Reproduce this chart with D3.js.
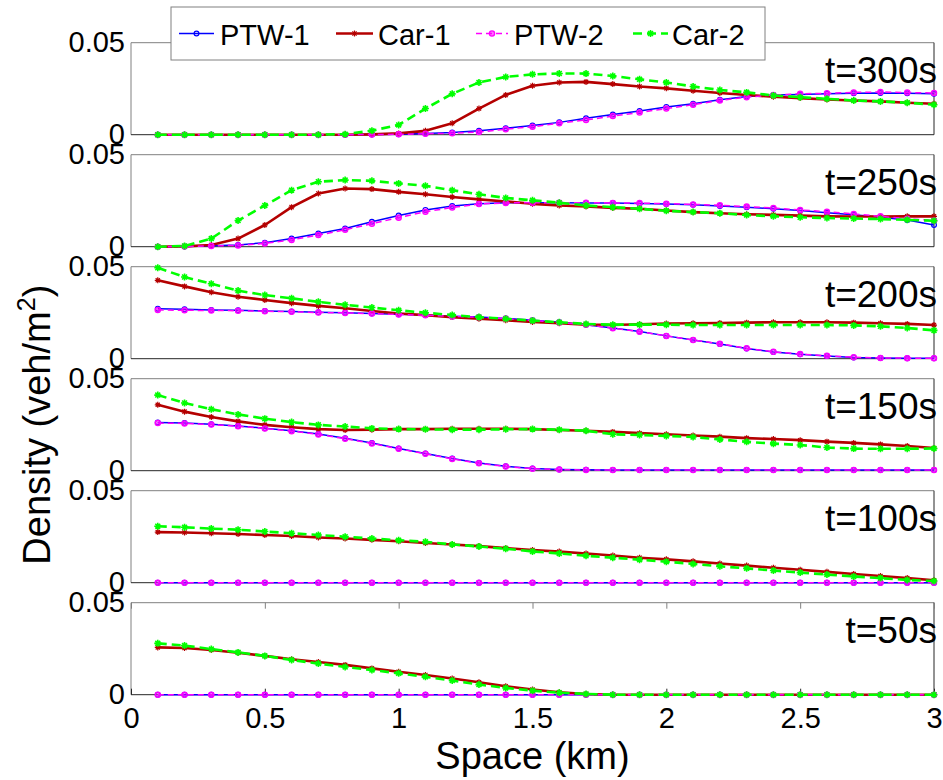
<!DOCTYPE html>
<html><head><meta charset="utf-8">
<script src="https://cdn.jsdelivr.net/npm/d3@7"></script>
<style>html,body{margin:0;padding:0;background:#fff;} svg{display:block;}</style>
</head><body><svg id="chart" width="943" height="780"></svg>
<script>
// ---------------- DATA ----------------
const X_KM = [0.1,0.2,0.3,0.4,0.5,0.6,0.7,0.8,0.9,1.0,1.1,1.2,1.3,1.4,1.5,1.6,1.7,1.8,1.9,2.0,2.1,2.2,2.3,2.4,2.5,2.6,2.7,2.8,2.9,3.0];
const PANEL_LABELS = ["t=300s","t=250s","t=200s","t=150s","t=100s","t=50s"];
const SERIES_NAMES = ["PTW-1","Car-1","PTW-2","Car-2"];
const X_TICKS = [0,0.5,1,1.5,2,2.5,3];
const X_TICK_LABELS = ["0","0.5","1","1.5","2","2.5","3"];
const Y_TICKS = [0,0.05];
const Y_TICK_LABELS = ["0","0.05"];

// t = 300 s
const PTW1_300 = [0,0,0,0,0,0,0,0,0.0001,0.0003,0.0007,0.0012,0.0021,0.0035,0.005,0.0067,0.0089,0.011,0.0129,0.0151,0.0168,0.019,0.0207,0.0216,0.0218,0.0222,0.0225,0.0227,0.0225,0.0222];
const CAR1_300 = [0,0,0,0,0,0,0,0,0.0002,0.0007,0.0021,0.0062,0.0142,0.0216,0.0266,0.0284,0.0287,0.0275,0.0262,0.0252,0.0239,0.0227,0.0216,0.0206,0.0199,0.0191,0.0186,0.0181,0.0174,0.0168];
const PTW2_300 = [0,0,0,0,0,0,0,0,0.0001,0.0002,0.0005,0.0008,0.0014,0.003,0.0043,0.0062,0.008,0.0101,0.0121,0.0142,0.0163,0.0186,0.0204,0.0216,0.0222,0.0225,0.023,0.0232,0.0229,0.0227];
const CAR2_300 = [0,0,0,0,0,0,0,0.0003,0.0022,0.0053,0.0142,0.0222,0.0284,0.0314,0.0328,0.0333,0.0332,0.0319,0.0301,0.0284,0.0262,0.0243,0.023,0.0213,0.0204,0.0195,0.0186,0.0181,0.0174,0.0163];
// t = 250 s
const PTW1_250 = [0,0.0001,0.0005,0.0009,0.0022,0.0044,0.0072,0.0099,0.0136,0.0169,0.02,0.0221,0.0233,0.0239,0.0239,0.0239,0.0237,0.0237,0.0235,0.0232,0.0228,0.0221,0.0215,0.0206,0.0197,0.0184,0.0173,0.016,0.0145,0.0118];
const CAR1_250 = [0,0.0002,0.0009,0.0044,0.0118,0.0215,0.0289,0.0316,0.0313,0.0298,0.0285,0.027,0.0257,0.0246,0.0233,0.0224,0.0219,0.0211,0.0206,0.0197,0.0188,0.0182,0.0176,0.0173,0.0169,0.0165,0.0164,0.0164,0.0165,0.0165];
const PTW2_250 = [0,0.0001,0.0004,0.0007,0.0018,0.0037,0.0063,0.0092,0.0125,0.0158,0.019,0.0213,0.0232,0.0238,0.0239,0.0239,0.0239,0.0238,0.0237,0.0234,0.023,0.0225,0.0218,0.021,0.02,0.019,0.0178,0.0165,0.0152,0.0142];
const CAR2_250 = [0,0.0004,0.0044,0.0142,0.0224,0.0307,0.0353,0.0362,0.0358,0.0344,0.0331,0.0307,0.0285,0.0265,0.0252,0.0239,0.0224,0.0215,0.0206,0.0195,0.0188,0.0182,0.0172,0.0165,0.016,0.0156,0.0153,0.015,0.0146,0.0141];
// t = 200 s
const PTW1_200 = [0.0272,0.0269,0.0265,0.0263,0.0259,0.0256,0.0252,0.025,0.0246,0.0241,0.0237,0.0231,0.0226,0.0219,0.0209,0.0198,0.0185,0.0167,0.0148,0.0124,0.0102,0.008,0.0056,0.0037,0.0024,0.0015,0.0007,0.0004,0.0002,0.0002];
const CAR1_200 = [0.0426,0.0393,0.0361,0.0337,0.0319,0.0302,0.0287,0.0274,0.0259,0.0246,0.0237,0.0226,0.0217,0.0209,0.02,0.0193,0.0185,0.0183,0.0187,0.0191,0.0193,0.0194,0.0196,0.0198,0.0198,0.0198,0.0196,0.0193,0.0189,0.0183];
const PTW2_200 = [0.0265,0.0263,0.0262,0.0261,0.0258,0.0255,0.0251,0.0249,0.0245,0.024,0.0236,0.023,0.0225,0.0218,0.0208,0.0197,0.0184,0.0166,0.0147,0.0124,0.0102,0.0081,0.0057,0.0038,0.0025,0.0016,0.0008,0.0004,0.0003,0.0003];
const CAR2_200 = [0.0494,0.0444,0.0407,0.037,0.0346,0.0328,0.0309,0.0293,0.0278,0.0263,0.025,0.0237,0.0226,0.0217,0.0207,0.0198,0.0189,0.0185,0.0185,0.0185,0.0183,0.0183,0.0183,0.0183,0.0183,0.0183,0.0181,0.0176,0.0167,0.0154];
// t = 150 s
const PTW1_150 = [0.0262,0.0259,0.0252,0.0243,0.0231,0.0217,0.0199,0.0176,0.015,0.0121,0.0094,0.0066,0.0042,0.0024,0.0012,0.0007,0.0005,0.0004,0.0004,0.0004,0.0004,0.0004,0.0004,0.0004,0.0004,0.0004,0.0004,0.0004,0.0004,0.0004];
const CAR1_150 = [0.0358,0.0321,0.0292,0.0268,0.0249,0.0236,0.0226,0.0221,0.0223,0.0226,0.0226,0.0228,0.0228,0.0228,0.0226,0.0221,0.0217,0.0211,0.0204,0.0198,0.0191,0.0185,0.0177,0.0172,0.0166,0.0158,0.0151,0.0143,0.0134,0.0123];
const PTW2_150 = [0.0259,0.0257,0.0251,0.0242,0.023,0.0215,0.0197,0.0174,0.0148,0.0119,0.0092,0.0064,0.004,0.0023,0.0011,0.0006,0.0004,0.0004,0.0004,0.0004,0.0004,0.0004,0.0004,0.0004,0.0004,0.0004,0.0004,0.0004,0.0004,0.0004];
const CAR2_150 = [0.0411,0.0368,0.0334,0.0306,0.0283,0.0264,0.0249,0.024,0.023,0.0226,0.0225,0.0223,0.0223,0.0225,0.0226,0.0223,0.0217,0.0198,0.0194,0.0189,0.0183,0.017,0.0157,0.0147,0.014,0.0126,0.012,0.0119,0.0119,0.0121];
// t = 100 s
const PTW1_100 = [0,0,0,0,0,0,0,0,0,0,0,0,0,0,0,0,0,0,0,0,0,0,0,0,0,0,0,0,0,0];
const CAR1_100 = [0.0275,0.0273,0.0269,0.0265,0.0259,0.0254,0.0246,0.024,0.0233,0.0225,0.0216,0.0208,0.0199,0.0188,0.0178,0.0169,0.0159,0.0148,0.0136,0.0127,0.0116,0.0104,0.0093,0.0081,0.007,0.0059,0.0047,0.0036,0.0025,0.0013];
const PTW2_100 = [0,0,0,0,0,0,0,0,0,0,0,0,0,0,0,0,0,0,0,0,0,0,0,0,0,0,0,0,0,0];
const CAR2_100 = [0.0307,0.0301,0.0294,0.0288,0.0278,0.0269,0.0259,0.025,0.024,0.0231,0.0222,0.0208,0.0197,0.0184,0.017,0.0159,0.0146,0.0136,0.0125,0.0114,0.0102,0.0089,0.0078,0.0066,0.0055,0.0044,0.0034,0.0025,0.0015,0.0009];
// t = 50 s
const PTW1_50 = [0,0,0,0,0,0,0,0,0,0,0,0,0,0,0,0,0,0,0,0,0,0,0,0,0,0,0,0,0,0];
const CAR1_50 = [0.0257,0.0254,0.0243,0.0228,0.0211,0.0193,0.0178,0.0162,0.0143,0.0125,0.0107,0.0088,0.0068,0.0046,0.0028,0.0013,0.0004,0,0,0,0,0,0,0,0,0,0,0,0,0];
const PTW2_50 = [0,0,0,0,0,0,0,0,0,0,0,0,0,0,0,0,0,0,0,0,0,0,0,0,0,0,0,0,0,0];
const CAR2_50 = [0.0279,0.0267,0.0248,0.023,0.0211,0.0189,0.0169,0.0151,0.0134,0.0116,0.0097,0.0077,0.0055,0.0037,0.0022,0.0011,0.0004,0,0,0,0,0,0,0,0,0,0,0,0,0];

// ---------------- BUILD ----------------
const PANELS = [
  {label: PANEL_LABELS[0], series: {"PTW-1": PTW1_300, "Car-1": CAR1_300, "PTW-2": PTW2_300, "Car-2": CAR2_300}},
  {label: PANEL_LABELS[1], series: {"PTW-1": PTW1_250, "Car-1": CAR1_250, "PTW-2": PTW2_250, "Car-2": CAR2_250}},
  {label: PANEL_LABELS[2], series: {"PTW-1": PTW1_200, "Car-1": CAR1_200, "PTW-2": PTW2_200, "Car-2": CAR2_200}},
  {label: PANEL_LABELS[3], series: {"PTW-1": PTW1_150, "Car-1": CAR1_150, "PTW-2": PTW2_150, "Car-2": CAR2_150}},
  {label: PANEL_LABELS[4], series: {"PTW-1": PTW1_100, "Car-1": CAR1_100, "PTW-2": PTW2_100, "Car-2": CAR2_100}},
  {label: PANEL_LABELS[5], series: {"PTW-1": PTW1_50,  "Car-1": CAR1_50,  "PTW-2": PTW2_50,  "Car-2": CAR2_50}}
];

const FONT = '"Liberation Sans", Arial, Helvetica, sans-serif';
const W = 943, H = 780;
const plotLeft = 131, plotRight = 934;
const panelTop0 = 42.7, panelStep = 112, panelH = 92;

const STYLES = {
  "PTW-1": {color: "#0000ff", width: 1.5, dash: null, marker: "circle"},
  "Car-1": {color: "#b40000", width: 2.6, dash: null, marker: "star"},
  "PTW-2": {color: "#ff00ff", width: 1.5, dash: "6,4", marker: "dot"},
  "Car-2": {color: "#00ff00", width: 2.6, dash: "9,5", marker: "plus"}
};

const svg = d3.select("#chart");
svg.append("rect").attr("width", W).attr("height", H).attr("fill", "#fff");

const x = d3.scaleLinear().domain([0, 3]).range([plotLeft, plotRight]);

function drawMarker(g, type, cx, cy, color) {
  if (type === "circle") {
    g.append("circle").attr("cx", cx).attr("cy", cy).attr("r", 2.4)
      .attr("fill", "none").attr("stroke", color).attr("stroke-width", 1.2);
  } else if (type === "dot") {
    g.append("circle").attr("cx", cx).attr("cy", cy).attr("r", 2.6)
      .attr("fill", color).attr("fill-opacity", 0.55).attr("stroke", color).attr("stroke-width", 1.3);
  } else if (type === "star") {
    const s = 3;
    g.append("path")
      .attr("d", `M${cx - s},${cy}L${cx + s},${cy}M${cx},${cy - s}L${cx},${cy + s}M${cx - s * 0.7},${cy - s * 0.7}L${cx + s * 0.7},${cy + s * 0.7}M${cx - s * 0.7},${cy + s * 0.7}L${cx + s * 0.7},${cy - s * 0.7}`)
      .attr("stroke", color).attr("stroke-width", 1.2).attr("fill", "none");
  } else if (type === "plus") {
    const s = 3.5;
    g.append("path")
      .attr("d", `M${cx - s},${cy}L${cx + s},${cy}M${cx},${cy - s}L${cx},${cy + s}M${cx - s * 0.7},${cy - s * 0.7}L${cx + s * 0.7},${cy + s * 0.7}M${cx - s * 0.7},${cy + s * 0.7}L${cx + s * 0.7},${cy - s * 0.7}`)
      .attr("stroke", color).attr("stroke-width", 1.6).attr("fill", "none");
  }
}

PANELS.forEach((p, i) => {
  const top = panelTop0 + i * panelStep, bottom = top + panelH;
  const y = d3.scaleLinear().domain([0, 0.05]).range([bottom, top]);
  const g = svg.append("g");

  // frame (MATLAB-like: left/top grey, right/bottom dark)
  g.append("rect").attr("x", plotLeft).attr("y", top).attr("width", plotRight - plotLeft).attr("height", panelH).attr("fill", "#fff");
  g.append("line").attr("x1", plotLeft).attr("x2", plotRight).attr("y1", top).attr("y2", top).attr("stroke", "#808080").attr("stroke-width", 1);
  g.append("line").attr("x1", plotLeft).attr("x2", plotLeft).attr("y1", top).attr("y2", bottom).attr("stroke", "#808080").attr("stroke-width", 1);
  g.append("line").attr("x1", plotRight).attr("x2", plotRight).attr("y1", top).attr("y2", bottom).attr("stroke", "#262626").attr("stroke-width", 1);
  g.append("line").attr("x1", plotLeft).attr("x2", plotRight).attr("y1", bottom).attr("y2", bottom).attr("stroke", "#262626").attr("stroke-width", 1);

  // y axis labels
  const ya = d3.axisLeft(y).tickValues(Y_TICKS).tickFormat((d, k) => Y_TICK_LABELS[k]).tickSize(0).tickPadding(6);
  const yg = g.append("g").attr("transform", `translate(${plotLeft},0)`).call(ya);
  yg.select(".domain").remove();
  yg.attr("font-family", FONT).attr("font-size", 29);
  yg.selectAll("text").attr("fill", "#000");

  // x axis (bottom panel only)
  if (i === PANELS.length - 1) {
    const xa = d3.axisBottom(x).tickValues(X_TICKS).tickFormat((d, k) => X_TICK_LABELS[k]).tickSizeInner(-6).tickSizeOuter(0).tickPadding(13);
    const xg = g.append("g").attr("transform", `translate(0,${bottom})`).call(xa);
    xg.select(".domain").remove();
    xg.attr("font-family", FONT).attr("font-size", 29);
    xg.selectAll("text").attr("fill", "#000");
    xg.selectAll("line").attr("stroke", "#262626");
    const xt = d3.axisTop(x).tickValues(X_TICKS).tickFormat("").tickSizeInner(-6).tickSizeOuter(0);
    const xtg = g.append("g").attr("transform", `translate(0,${top})`).call(xt);
    xtg.select(".domain").remove();
    xtg.selectAll("line").attr("stroke", "#808080");
  }

  // series
  SERIES_NAMES.forEach(name => {
    const vals = p.series[name];
    const st = STYLES[name];
    const line = d3.line().x((d, j) => x(X_KM[j])).y(d => y(d));
    g.append("path").datum(vals).attr("d", line)
      .attr("fill", "none").attr("stroke", st.color).attr("stroke-width", st.width)
      .attr("stroke-dasharray", st.dash).attr("stroke-linejoin", "round");
    const mg = g.append("g");
    vals.forEach((v, j) => drawMarker(mg, st.marker, x(X_KM[j]), y(v), st.color));
  });

  // panel label
  g.append("text").attr("x", 937).attr("y", top + 40.6).attr("text-anchor", "end")
    .attr("font-family", FONT).attr("font-size", 37).attr("fill", "#000").text(p.label);
});

// axis titles
svg.append("text").attr("x", (plotLeft + plotRight) / 2).attr("y", 769).attr("text-anchor", "middle")
  .attr("font-family", FONT).attr("font-size", 38).attr("fill", "#000").text("Space (km)");

const yl = svg.append("text").attr("transform", `translate(50,${panelTop0 + 3 * panelStep + panelH / 2}) rotate(-90)`)
  .attr("text-anchor", "middle").attr("font-family", FONT).attr("font-size", 38).attr("fill", "#000");
yl.append("tspan").text("Density (veh/m");
yl.append("tspan").attr("font-size", 25).attr("dy", -15).text("2");
yl.append("tspan").attr("dy", 15).text(")");

// legend
const lg = svg.append("g");
lg.append("rect").attr("x", 171).attr("y", 7).attr("width", 594).attr("height", 53)
  .attr("fill", "#fff").attr("stroke", "#808080").attr("stroke-width", 1);
const legendItems = [
  {name: SERIES_NAMES[0], x1: 179, x2: 214, tx: 220},
  {name: SERIES_NAMES[1], x1: 336, x2: 373, tx: 378},
  {name: SERIES_NAMES[2], x1: 476, x2: 508, tx: 514},
  {name: SERIES_NAMES[3], x1: 633, x2: 668, tx: 672}
];
legendItems.forEach(it => {
  const st = STYLES[it.name];
  lg.append("line").attr("x1", it.x1).attr("x2", it.x2).attr("y1", 33.5).attr("y2", 33.5)
    .attr("stroke", st.color).attr("stroke-width", st.width).attr("stroke-dasharray", st.dash);
  drawMarker(lg, st.marker, (it.x1 + it.x2) / 2, 33.5, st.color);
  lg.append("text").attr("x", it.tx).attr("y", 45).attr("font-family", FONT).attr("font-size", 29)
    .attr("fill", "#000").text(it.name);
});
</script>
</body></html>
